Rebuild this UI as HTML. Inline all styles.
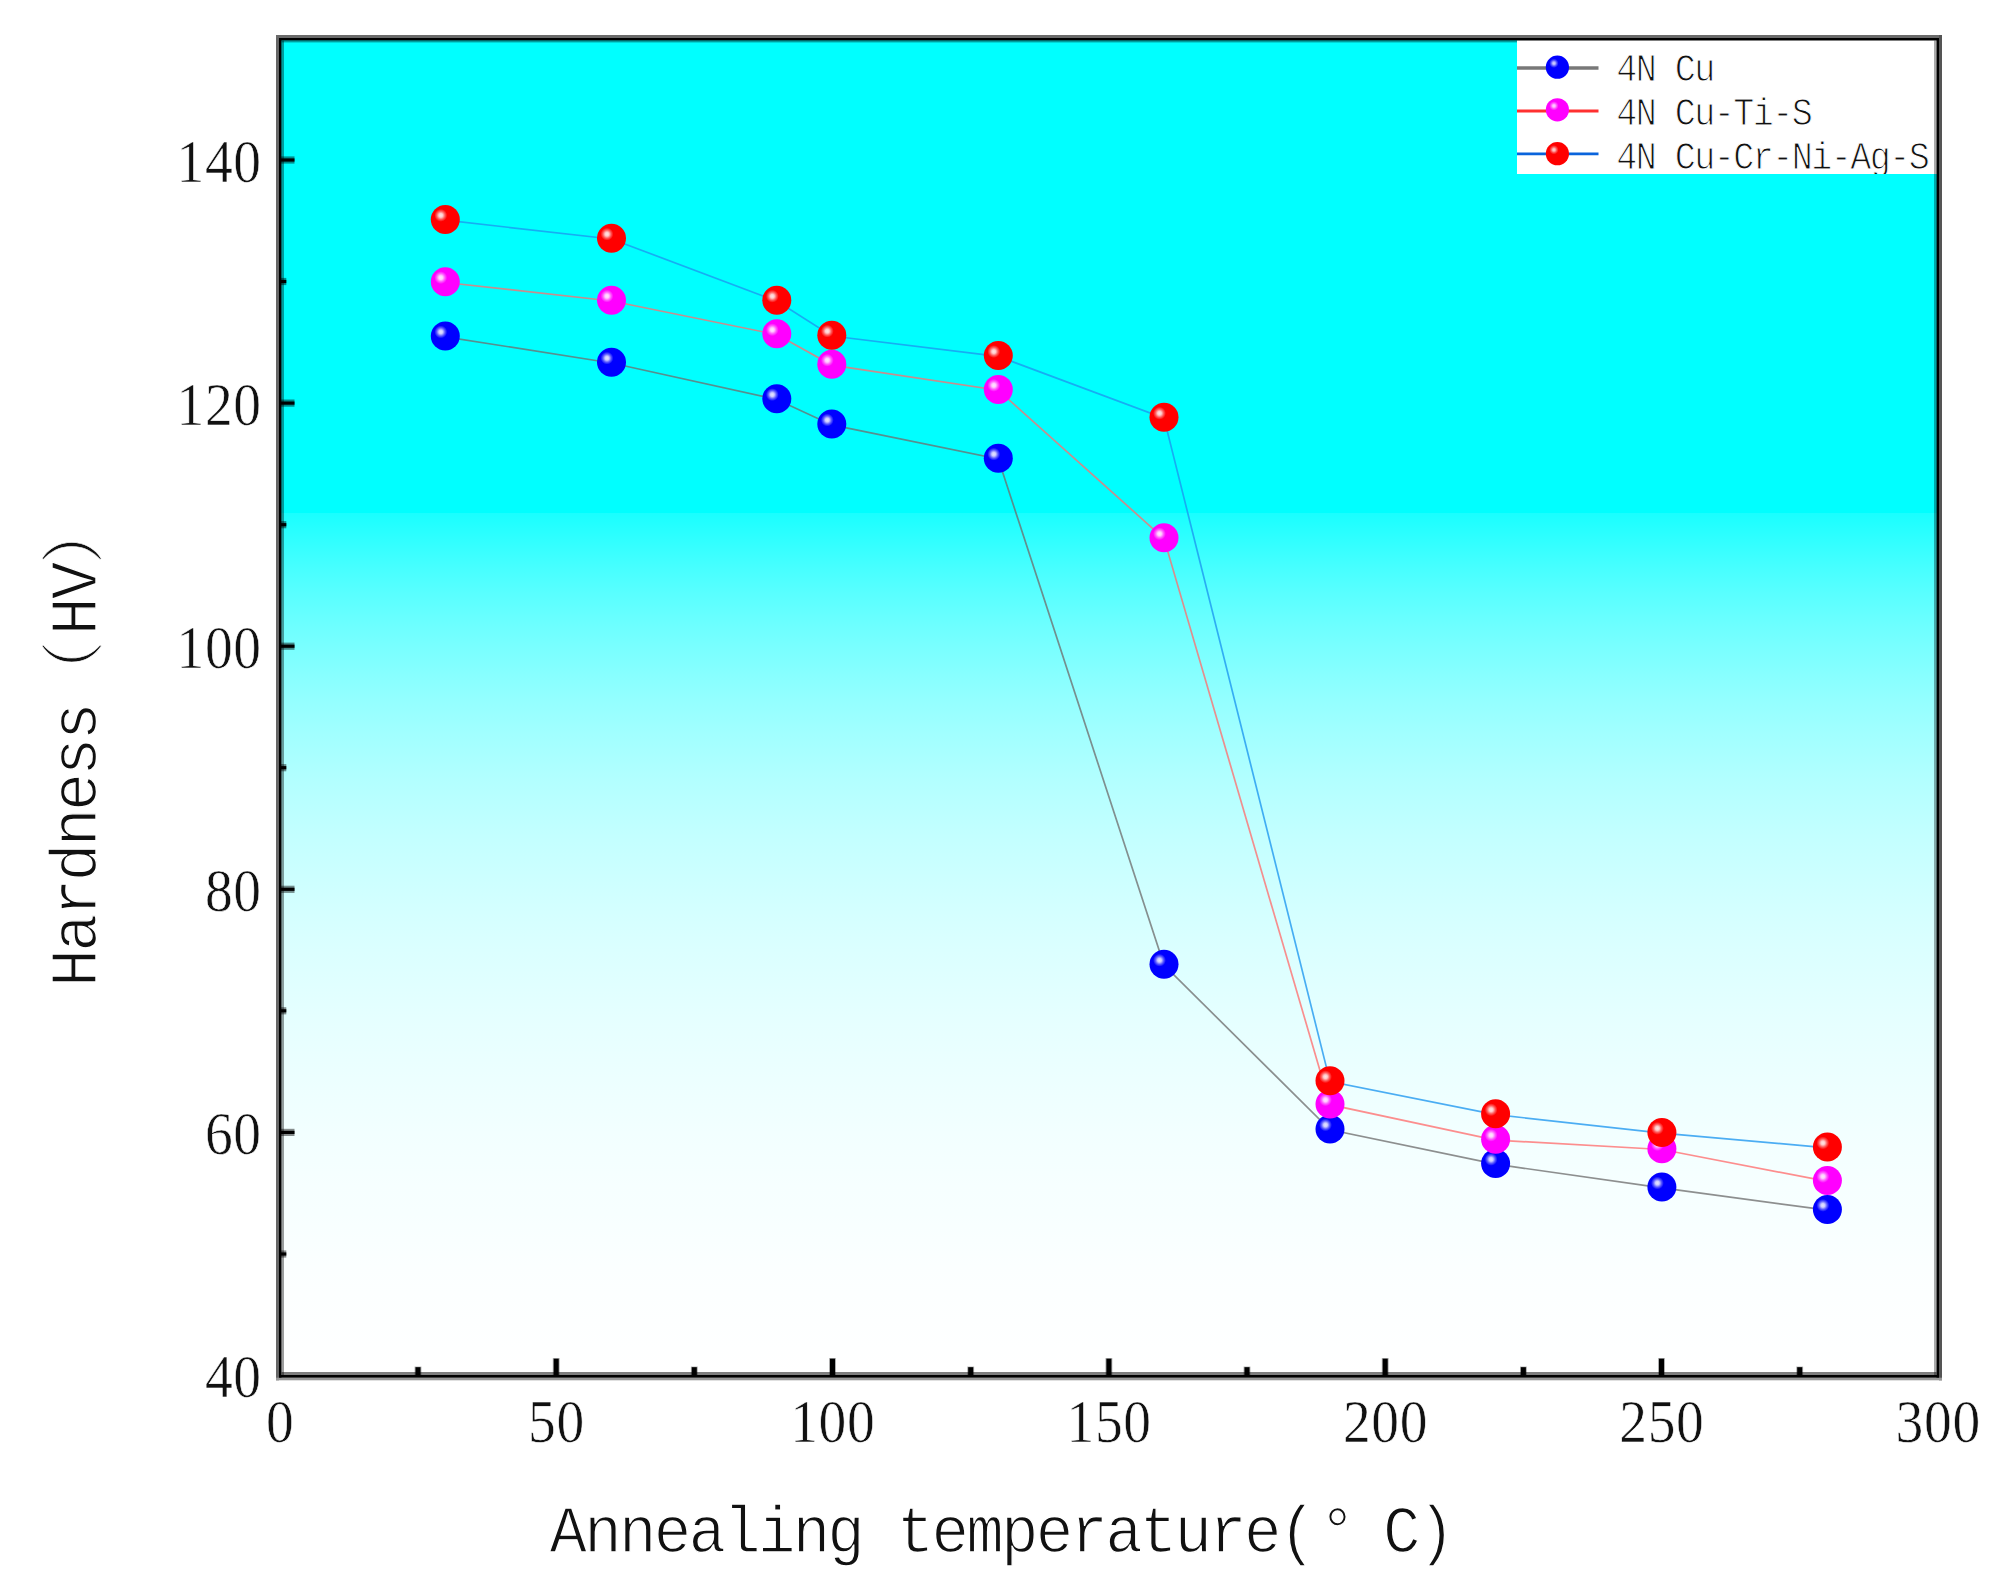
<!DOCTYPE html>
<html lang="en"><head><meta charset="utf-8"><title>Hardness vs annealing temperature</title>
<style>
html,body{margin:0;padding:0;background:#fff;}
body{width:2011px;height:1579px;overflow:hidden;}
svg{display:block;}
text{font-family:"Liberation Serif", "Noto Serif CJK SC", serif;fill:#111;}
</style></head><body>
<svg width="2011" height="1579" viewBox="0 0 2011 1579">
<defs>
<linearGradient id="bg" gradientUnits="userSpaceOnUse" x1="0" y1="513" x2="0" y2="1375">
<stop offset="0.0000" stop-color="rgb(25,255,255)"/>
<stop offset="0.0312" stop-color="rgb(48,255,255)"/>
<stop offset="0.0625" stop-color="rgb(70,255,255)"/>
<stop offset="0.0938" stop-color="rgb(89,255,255)"/>
<stop offset="0.1250" stop-color="rgb(106,255,255)"/>
<stop offset="0.1562" stop-color="rgb(121,255,255)"/>
<stop offset="0.1875" stop-color="rgb(135,255,255)"/>
<stop offset="0.2188" stop-color="rgb(148,255,255)"/>
<stop offset="0.2500" stop-color="rgb(159,255,255)"/>
<stop offset="0.2812" stop-color="rgb(169,255,255)"/>
<stop offset="0.3125" stop-color="rgb(179,255,255)"/>
<stop offset="0.3438" stop-color="rgb(187,255,255)"/>
<stop offset="0.3750" stop-color="rgb(195,255,255)"/>
<stop offset="0.4062" stop-color="rgb(201,255,255)"/>
<stop offset="0.4375" stop-color="rgb(207,255,255)"/>
<stop offset="0.4688" stop-color="rgb(213,255,255)"/>
<stop offset="0.5000" stop-color="rgb(218,255,255)"/>
<stop offset="0.5312" stop-color="rgb(222,255,255)"/>
<stop offset="0.5625" stop-color="rgb(226,255,255)"/>
<stop offset="0.5938" stop-color="rgb(230,255,255)"/>
<stop offset="0.6250" stop-color="rgb(233,255,255)"/>
<stop offset="0.6562" stop-color="rgb(236,255,255)"/>
<stop offset="0.6875" stop-color="rgb(239,255,255)"/>
<stop offset="0.7188" stop-color="rgb(242,255,255)"/>
<stop offset="0.7500" stop-color="rgb(244,255,255)"/>
<stop offset="0.7812" stop-color="rgb(246,255,255)"/>
<stop offset="0.8125" stop-color="rgb(247,255,255)"/>
<stop offset="0.8438" stop-color="rgb(249,255,255)"/>
<stop offset="0.8750" stop-color="rgb(251,255,255)"/>
<stop offset="0.9062" stop-color="rgb(252,255,255)"/>
<stop offset="0.9375" stop-color="rgb(253,255,255)"/>
<stop offset="0.9688" stop-color="rgb(254,255,255)"/>
<stop offset="1.0000" stop-color="rgb(255,255,255)"/>
</linearGradient>
<radialGradient id="gb" cx="0.345" cy="0.36" r="0.22"><stop offset="0" stop-color="rgb(230,230,255)"/><stop offset="0.3" stop-color="rgb(204,204,255)"/><stop offset="0.65" stop-color="rgb(89,89,255)"/><stop offset="1" stop-color="rgb(0,0,255)"/></radialGradient>
<radialGradient id="gm" cx="0.345" cy="0.36" r="0.22"><stop offset="0" stop-color="rgb(255,230,255)"/><stop offset="0.3" stop-color="rgb(255,204,255)"/><stop offset="0.65" stop-color="rgb(255,89,255)"/><stop offset="1" stop-color="rgb(255,0,255)"/></radialGradient>
<radialGradient id="gr" cx="0.345" cy="0.36" r="0.22"><stop offset="0" stop-color="rgb(255,230,230)"/><stop offset="0.3" stop-color="rgb(255,204,204)"/><stop offset="0.65" stop-color="rgb(255,89,89)"/><stop offset="1" stop-color="rgb(255,0,0)"/></radialGradient>
<radialGradient id="lb" cx="0.35" cy="0.33" r="0.2"><stop offset="0" stop-color="rgb(217,217,255)"/><stop offset="0.3" stop-color="rgb(178,178,255)"/><stop offset="0.65" stop-color="rgb(76,76,255)"/><stop offset="1" stop-color="rgb(0,0,255)"/></radialGradient>
<radialGradient id="lm" cx="0.35" cy="0.33" r="0.2"><stop offset="0" stop-color="rgb(255,217,255)"/><stop offset="0.3" stop-color="rgb(255,178,255)"/><stop offset="0.65" stop-color="rgb(255,76,255)"/><stop offset="1" stop-color="rgb(255,0,255)"/></radialGradient>
<radialGradient id="lr" cx="0.35" cy="0.33" r="0.2"><stop offset="0" stop-color="rgb(255,217,217)"/><stop offset="0.3" stop-color="rgb(255,178,178)"/><stop offset="0.65" stop-color="rgb(255,76,76)"/><stop offset="1" stop-color="rgb(255,0,0)"/></radialGradient>
</defs>
<rect width="2011" height="1579" fill="#fff"/>

<rect x="279" y="38" width="1660" height="476" fill="#00ffff"/>
<rect x="279" y="513" width="1660" height="864" fill="url(#bg)"/>
<rect x="281.5" y="40.5" width="2.5" height="1335" fill="#000" fill-opacity="0.38"/>
<rect x="281.5" y="40.5" width="1655" height="1.9" fill="#000" fill-opacity="0.38"/>
<rect x="1517" y="40" width="420" height="134" fill="#fff"/>
<rect x="1934" y="40.5" width="2.5" height="1335" fill="#000" fill-opacity="0.33"/>
<rect x="281.5" y="1372" width="1655" height="3" fill="#000" fill-opacity="0.5"/>
<rect x="281" y="1128.8" width="13.5" height="7.2" fill="#000" fill-opacity="0.45"/>
<rect x="281" y="1130.8" width="13.5" height="3.2" fill="#000"/>
<rect x="281" y="885.7" width="13.5" height="7.2" fill="#000" fill-opacity="0.45"/>
<rect x="281" y="887.7" width="13.5" height="3.2" fill="#000"/>
<rect x="281" y="642.6" width="13.5" height="7.2" fill="#000" fill-opacity="0.45"/>
<rect x="281" y="644.6" width="13.5" height="3.2" fill="#000"/>
<rect x="281" y="399.5" width="13.5" height="7.2" fill="#000" fill-opacity="0.45"/>
<rect x="281" y="401.5" width="13.5" height="3.2" fill="#000"/>
<rect x="281" y="156.4" width="13.5" height="7.2" fill="#000" fill-opacity="0.45"/>
<rect x="281" y="158.4" width="13.5" height="3.2" fill="#000"/>
<rect x="281" y="1250.4" width="5.3" height="7.2" fill="#000" fill-opacity="0.45"/>
<rect x="281" y="1252.4" width="5.3" height="3.2" fill="#000"/>
<rect x="281" y="1007.2" width="5.3" height="7.2" fill="#000" fill-opacity="0.45"/>
<rect x="281" y="1009.2" width="5.3" height="3.2" fill="#000"/>
<rect x="281" y="764.1" width="5.3" height="7.2" fill="#000" fill-opacity="0.45"/>
<rect x="281" y="766.1" width="5.3" height="3.2" fill="#000"/>
<rect x="281" y="521.1" width="5.3" height="7.2" fill="#000" fill-opacity="0.45"/>
<rect x="281" y="523.1" width="5.3" height="3.2" fill="#000"/>
<rect x="281" y="277.9" width="5.3" height="7.2" fill="#000" fill-opacity="0.45"/>
<rect x="281" y="279.9" width="5.3" height="3.2" fill="#000"/>
<rect x="552.8" y="1358.1" width="6.8" height="16.9" fill="#000" fill-opacity="0.35"/>
<rect x="553.7" y="1358.7" width="5" height="16.3" fill="#000"/>
<rect x="829.1" y="1358.1" width="6.8" height="16.9" fill="#000" fill-opacity="0.35"/>
<rect x="830.0" y="1358.7" width="5" height="16.3" fill="#000"/>
<rect x="1105.5" y="1358.1" width="6.8" height="16.9" fill="#000" fill-opacity="0.35"/>
<rect x="1106.4" y="1358.7" width="5" height="16.3" fill="#000"/>
<rect x="1381.8" y="1358.1" width="6.8" height="16.9" fill="#000" fill-opacity="0.35"/>
<rect x="1382.7" y="1358.7" width="5" height="16.3" fill="#000"/>
<rect x="1658.1" y="1358.1" width="6.8" height="16.9" fill="#000" fill-opacity="0.35"/>
<rect x="1659.0" y="1358.7" width="5" height="16.3" fill="#000"/>
<rect x="414.6" y="1366.6" width="6.8" height="8.4" fill="#000" fill-opacity="0.35"/>
<rect x="415.5" y="1367.2" width="5" height="7.8" fill="#000"/>
<rect x="690.9" y="1366.6" width="6.8" height="8.4" fill="#000" fill-opacity="0.35"/>
<rect x="691.8" y="1367.2" width="5" height="7.8" fill="#000"/>
<rect x="967.3" y="1366.6" width="6.8" height="8.4" fill="#000" fill-opacity="0.35"/>
<rect x="968.2" y="1367.2" width="5" height="7.8" fill="#000"/>
<rect x="1243.6" y="1366.6" width="6.8" height="8.4" fill="#000" fill-opacity="0.35"/>
<rect x="1244.5" y="1367.2" width="5" height="7.8" fill="#000"/>
<rect x="1520.0" y="1366.6" width="6.8" height="8.4" fill="#000" fill-opacity="0.35"/>
<rect x="1520.9" y="1367.2" width="5" height="7.8" fill="#000"/>
<rect x="1796.3" y="1366.6" width="6.8" height="8.4" fill="#000" fill-opacity="0.35"/>
<rect x="1797.2" y="1367.2" width="5" height="7.8" fill="#000"/>
<rect x="276" y="35" width="3" height="1345.3" fill="#666"/>
<rect x="279" y="38" width="2.5" height="1339.7" fill="#000"/>
<rect x="276" y="35" width="1666" height="3" fill="#6a6a6a"/>
<rect x="279" y="38" width="1660" height="2.5" fill="#000"/>
<rect x="1939" y="35" width="3" height="1345.3" fill="#555"/>
<rect x="1936.5" y="38" width="2.5" height="1339.7" fill="#000"/>
<rect x="276" y="1377.7" width="1666" height="2.6" fill="#999"/>
<rect x="279" y="1375" width="1660" height="2.7" fill="#000"/>
<polyline points="445.3,336.8 611.5,363.0 776.8,399.5 831.8,424.9 998.3,459.0 1164.0,965.1 1330.0,1129.8 1495.6,1164.2 1661.9,1187.9 1827.4,1210.2" fill="none" stroke="#707070" stroke-width="1.7" stroke-opacity="0.78"/>
<circle cx="445.3" cy="336.0" r="14.5" fill="url(#gb)"/>
<circle cx="611.5" cy="362.2" r="14.5" fill="url(#gb)"/>
<circle cx="776.8" cy="398.7" r="14.5" fill="url(#gb)"/>
<circle cx="831.8" cy="424.1" r="14.5" fill="url(#gb)"/>
<circle cx="998.3" cy="458.2" r="14.5" fill="url(#gb)"/>
<circle cx="1164.0" cy="964.3" r="14.5" fill="url(#gb)"/>
<circle cx="1330.0" cy="1129.0" r="14.5" fill="url(#gb)"/>
<circle cx="1495.6" cy="1163.4" r="14.5" fill="url(#gb)"/>
<circle cx="1661.9" cy="1187.1" r="14.5" fill="url(#gb)"/>
<circle cx="1827.4" cy="1209.4" r="14.5" fill="url(#gb)"/>
<polyline points="445.3,282.5 611.5,301.0 776.8,334.6 831.8,365.1 998.3,390.2 1164.0,538.6 1330.0,1104.7 1495.6,1140.1 1661.9,1149.5 1827.4,1181.4" fill="none" stroke="#ff6e6e" stroke-width="1.7" stroke-opacity="0.78"/>
<circle cx="445.3" cy="281.7" r="14.5" fill="url(#gm)"/>
<circle cx="611.5" cy="300.2" r="14.5" fill="url(#gm)"/>
<circle cx="776.8" cy="333.8" r="14.5" fill="url(#gm)"/>
<circle cx="831.8" cy="364.3" r="14.5" fill="url(#gm)"/>
<circle cx="998.3" cy="389.4" r="14.5" fill="url(#gm)"/>
<circle cx="1164.0" cy="537.8" r="14.5" fill="url(#gm)"/>
<circle cx="1330.0" cy="1103.9" r="14.5" fill="url(#gm)"/>
<circle cx="1495.6" cy="1139.3" r="14.5" fill="url(#gm)"/>
<circle cx="1661.9" cy="1148.7" r="14.5" fill="url(#gm)"/>
<circle cx="1827.4" cy="1180.6" r="14.5" fill="url(#gm)"/>
<polyline points="445.3,220.2 611.5,239.0 776.8,301.1 831.8,336.0 998.3,356.4 1164.0,418.1 1330.0,1081.6 1495.6,1114.6 1661.9,1133.2 1827.4,1147.8" fill="none" stroke="#1c96f0" stroke-width="1.7" stroke-opacity="0.78"/>
<circle cx="445.3" cy="219.4" r="14.5" fill="url(#gr)"/>
<circle cx="611.5" cy="238.2" r="14.5" fill="url(#gr)"/>
<circle cx="776.8" cy="300.3" r="14.5" fill="url(#gr)"/>
<circle cx="831.8" cy="335.2" r="14.5" fill="url(#gr)"/>
<circle cx="998.3" cy="355.6" r="14.5" fill="url(#gr)"/>
<circle cx="1164.0" cy="417.3" r="14.5" fill="url(#gr)"/>
<circle cx="1330.0" cy="1080.8" r="14.5" fill="url(#gr)"/>
<circle cx="1495.6" cy="1113.8" r="14.5" fill="url(#gr)"/>
<circle cx="1661.9" cy="1132.4" r="14.5" fill="url(#gr)"/>
<circle cx="1827.4" cy="1147.0" r="14.5" fill="url(#gr)"/>
<line x1="1517" y1="68" x2="1598.5" y2="68" stroke="#787878" stroke-width="3.6"/>
<circle cx="1557.4" cy="67.2" r="11.6" fill="url(#lb)"/>
<line x1="1517" y1="111" x2="1598.5" y2="111" stroke="#ff3030" stroke-width="2.8"/>
<circle cx="1557.4" cy="109.8" r="11.6" fill="url(#lm)"/>
<line x1="1517" y1="153.8" x2="1598.5" y2="153.8" stroke="#0a64dc" stroke-width="2.8"/>
<circle cx="1557.4" cy="153.7" r="11.6" fill="url(#lr)"/>
<text x="304.13" y="1442.50" font-size="60.4" text-anchor="middle" fill="#1a1a1a" stroke="#fff" stroke-width="0.6" transform="scale(0.92,1.0)">0</text>
<text x="589.08 619.95" y="1442.50" font-size="60.4" text-anchor="middle" fill="#1a1a1a" stroke="#fff" stroke-width="0.6" transform="scale(0.92,1.0)">50</text>
<text x="874.02 904.89 935.76" y="1442.50" font-size="60.4" text-anchor="middle" fill="#1a1a1a" stroke="#fff" stroke-width="0.6" transform="scale(0.92,1.0)">100</text>
<text x="1174.40 1205.27 1236.14" y="1442.50" font-size="60.4" text-anchor="middle" fill="#1a1a1a" stroke="#fff" stroke-width="0.6" transform="scale(0.92,1.0)">150</text>
<text x="1474.78 1505.65 1536.52" y="1442.50" font-size="60.4" text-anchor="middle" fill="#1a1a1a" stroke="#fff" stroke-width="0.6" transform="scale(0.92,1.0)">200</text>
<text x="1775.16 1806.03 1836.90" y="1442.50" font-size="60.4" text-anchor="middle" fill="#1a1a1a" stroke="#fff" stroke-width="0.6" transform="scale(0.92,1.0)">250</text>
<text x="2075.54 2106.41 2137.28" y="1442.50" font-size="60.4" text-anchor="middle" fill="#1a1a1a" stroke="#fff" stroke-width="0.6" transform="scale(0.92,1.0)">300</text>
<text x="237.83 268.70" y="1397.10" font-size="60.4" text-anchor="middle" fill="#1a1a1a" stroke="#fff" stroke-width="0.6" transform="scale(0.92,1.0)">40</text>
<text x="237.83 268.70" y="1154.00" font-size="60.4" text-anchor="middle" fill="#1a1a1a" stroke="#fff" stroke-width="0.6" transform="scale(0.92,1.0)">60</text>
<text x="237.83 268.70" y="910.90" font-size="60.4" text-anchor="middle" fill="#1a1a1a" stroke="#fff" stroke-width="0.6" transform="scale(0.92,1.0)">80</text>
<text x="206.96 237.83 268.70" y="667.80" font-size="60.4" text-anchor="middle" fill="#1a1a1a" stroke="#fff" stroke-width="0.6" transform="scale(0.92,1.0)">100</text>
<text x="206.96 237.83 268.70" y="424.70" font-size="60.4" text-anchor="middle" fill="#1a1a1a" stroke="#fff" stroke-width="0.6" transform="scale(0.92,1.0)">120</text>
<text x="206.96 237.83 268.70" y="181.60" font-size="60.4" text-anchor="middle" fill="#1a1a1a" stroke="#fff" stroke-width="0.6" transform="scale(0.92,1.0)">140</text>
<clipPath id="lc"><rect x="1517" y="40" width="419" height="134"/></clipPath><g clip-path="url(#lc)">
<text x="1506.25 1524.31 1542.36 1560.42 1578.47" y="67.09" font-size="32.49" text-anchor="middle" style="font-family:'Liberation Mono', 'Noto Sans CJK SC', monospace" fill="#2a2a2a" stroke="#fff" stroke-width="0.9" transform="scale(1.08,1.2147)">4N Cu</text>
<text x="1506.25 1524.31 1542.36 1560.42 1578.47 1596.53 1614.58 1632.64 1650.69 1668.75" y="102.66" font-size="32.49" text-anchor="middle" style="font-family:'Liberation Mono', 'Noto Sans CJK SC', monospace" fill="#2a2a2a" stroke="#fff" stroke-width="0.9" transform="scale(1.08,1.2147)">4N Cu-Ti-S</text>
<text x="1506.25 1524.31 1542.36 1560.42 1578.47 1596.53 1614.58 1632.64 1650.69 1668.75 1686.81 1704.86 1722.92 1740.97 1759.03 1777.08" y="138.88" font-size="32.49" text-anchor="middle" style="font-family:'Liberation Mono', 'Noto Sans CJK SC', monospace" fill="#2a2a2a" stroke="#fff" stroke-width="0.9" transform="scale(1.08,1.2147)">4N Cu-Cr-Ni-Ag-S</text>
</g>
<text x="526.26 558.41 590.56 622.70 654.85 687.00 719.15 751.30 783.44 815.59 847.74 879.89 912.04 944.19 976.33 1008.48 1040.63 1072.78 1104.93 1137.07 1169.22 1201.37 1238.34 1297.81 1329.96" y="1328.82" font-size="57.86" text-anchor="middle" style="font-family:'Liberation Mono', 'Noto Sans CJK SC', monospace" fill="#111" stroke="#fff" stroke-width="1.2" transform="scale(1.08,1.1677)">Annealing temperature(°C)</text>
<text transform="rotate(-90) scale(1.08,1.1517)" y="83.79" font-size="58.66" text-anchor="middle" style="font-family:'Liberation Mono', 'Noto Sans CJK SC', monospace" fill="#111" stroke="#fff" stroke-width="1.2"><tspan x="-896.30 -863.70 -831.11 -798.52 -765.93 -733.33 -700.74 -668.15">Hardness</tspan><tspan x="-621.39" style="font-family:'Liberation Serif','Noto Serif CJK SC',serif" font-size="55.08" stroke-width="0.5">（</tspan><tspan x="-570.56 -537.41">HV</tspan><tspan x="-493.93" style="font-family:'Liberation Serif','Noto Serif CJK SC',serif" font-size="55.08" stroke-width="0.5">）</tspan></text>
</svg></body></html>
